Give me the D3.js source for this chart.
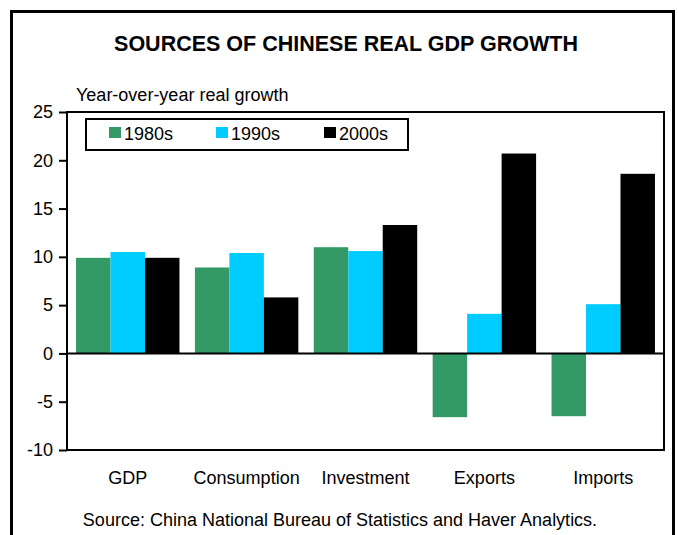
<!DOCTYPE html>
<html><head><meta charset="utf-8">
<script src="https://cdn.jsdelivr.net/npm/d3@7"></script>
<style>body{margin:0;background:#fff}svg{display:block}text{font-family:"Liberation Sans",Arial,sans-serif;fill:#000}</style>
</head><body>
<svg id="c" width="678" height="535"></svg>
<script>
const categories = ["GDP","Consumption","Investment","Exports","Imports"];
const seriesNames = ["1980s","1990s","2000s"];
const s1980 = [9.9, 8.9, 11.0, -6.6, -6.5];
const s1990 = [10.5, 10.4, 10.6, 4.1, 5.1];
const s2000 = [9.9, 5.8, 13.3, 20.7, 18.6];
const yTicks = [-10,-5,0,5,10,15,20,25];
const colors = ["#339966","#00CCFF","#000000"];
const series = [s1980, s1990, s2000];

const svg = d3.select("#c");
const L = 67, R = 664, T = 112, B = 450;
const FF = "'Liberation Sans',Arial,sans-serif";

// outer frame
svg.append("rect").attr("x",11.5).attr("y",11.5).attr("width",662).attr("height",540)
  .attr("fill","none").attr("stroke","#000").attr("stroke-width",3);

svg.append("text").attr("x",346).attr("y",51).attr("text-anchor","middle")
  .style("font-weight","bold").style("font-size","21.5px").text("SOURCES OF CHINESE REAL GDP GROWTH");
svg.append("text").attr("x",76).attr("y",101).style("font-size","18px").text("Year-over-year real growth");

const x = d3.scaleBand().domain(categories).range([L,R]).paddingInner(0.13).paddingOuter(0.076);
const xs = d3.scaleBand().domain(seriesNames).range([0,x.bandwidth()]);
const y = d3.scaleLinear().domain([-10,25]).range([B,T]);

// bars
seriesNames.forEach((s,i)=>{
  svg.append("g").selectAll("rect").data(categories).join("rect")
    .attr("x",c=>x(c)+xs(s))
    .attr("y",(c,j)=>y(Math.max(0,series[i][j])))
    .attr("width",xs.bandwidth())
    .attr("height",(c,j)=>Math.abs(y(series[i][j])-y(0)))
    .attr("fill",colors[i]);
});

// zero line
svg.append("line").attr("x1",L).attr("x2",R).attr("y1",y(0)).attr("y2",y(0))
  .attr("stroke","#000").attr("stroke-width",2);

// plot box
svg.append("rect").attr("x",L).attr("y",T).attr("width",R-L).attr("height",B-T)
  .attr("fill","none").attr("stroke","#000").attr("stroke-width",2);

// y axis
const ya = d3.axisLeft(y).tickValues(yTicks).tickSize(8).tickPadding(6).tickFormat(d=>String(d));
const yg = svg.append("g").attr("transform",`translate(${L},0)`).call(ya);
yg.select(".domain").remove();
yg.selectAll("line").attr("stroke","#000").attr("stroke-width",2);
yg.selectAll("text").style("font-size","18px").style("font-family",FF);

// x labels
const xa = d3.axisBottom(x).tickSize(0).tickPadding(21);
const xg = svg.append("g").attr("transform",`translate(0,${B})`).call(xa);
xg.select(".domain").remove();
xg.selectAll("text").style("font-size","18px").style("font-family",FF);

// legend
const lg = svg.append("g");
lg.append("rect").attr("x",86).attr("y",119).attr("width",322).attr("height",31)
  .attr("fill","#fff").attr("stroke","#000").attr("stroke-width",2);
const lx = [109,216,324];
seriesNames.forEach((s,i)=>{
  lg.append("rect").attr("x",lx[i]).attr("y",127).attr("width",12).attr("height",11).attr("fill",colors[i]);
  lg.append("text").attr("x",lx[i]+15).attr("y",140).style("font-size","18px").text(s);
});

svg.append("text").attr("x",340).attr("y",526).attr("text-anchor","middle").style("font-size","18px")
  .text("Source: China National Bureau of Statistics and Haver Analytics.");
</script>
</body></html>
